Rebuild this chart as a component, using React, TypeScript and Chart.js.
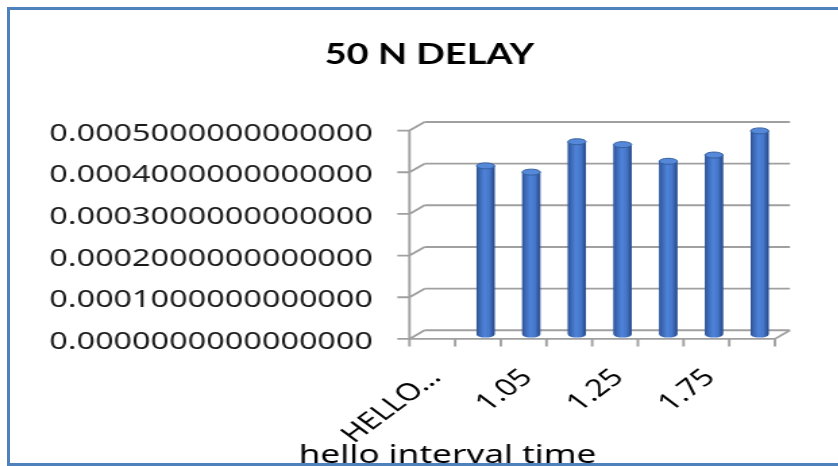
import React, { useEffect, useRef } from 'react';
import { Chart, registerables } from 'chart.js';

Chart.register(...registerables);

// ---- data ----
const categories = ['HELLO INTERVAL TIME', '1', '1.05', '1.1', '1.25', '1.5', '1.75', '2'];
const delays: (number | null)[] = [null, 0.000405, 0.00039, 0.000463, 0.000456, 0.000416, 0.000431, 0.000489];
const yTickValues = [0, 0.0001, 0.0002, 0.0003, 0.0004, 0.0005];
const titleText = '50 N DELAY';
const xAxisTitle = 'hello interval time';

// ---- layout (internal canvas units, canvas is stretched horizontally) ----
const STRETCH = 1.35;
const W = 621;
const H = 466;
const DEPTH_X = 5.6;
const DEPTH_Y = 4.3;

const shortLabel = (s: string) => (s.length > 6 ? s.slice(0, 5) + '\u2026' : s);

// let the y tick labels use the room left of the layout padding (no clipping)
const widenY = {
  id: 'widenY',
  afterLayout(chart: any) {
    chart.scales.y.left = 0;
  },
};

const frame3d = {
  id: 'frame3d',
  beforeDatasetsDraw(chart: any) {
    const { ctx, chartArea: a, scales } = chart;
    const x = scales.x;
    const y = scales.y;
    ctx.save();
    ctx.strokeStyle = '#a0a0a0';
    ctx.lineWidth = 1.9;
    const fl = a.left - DEPTH_X;
    const bl = a.left + DEPTH_X;
    const fr = a.right - DEPTH_X;
    const br = a.right + DEPTH_X;
    const top = y.getPixelForValue(yTickValues[yTickValues.length - 1]);
    const base = y.getPixelForValue(0);
    ctx.beginPath();
    for (const v of yTickValues) {
      const py = y.getPixelForValue(v);
      ctx.moveTo(bl, py - DEPTH_Y);
      ctx.lineTo(br, py - DEPTH_Y);
      ctx.moveTo(fl, py + DEPTH_Y);
      ctx.lineTo(bl, py - DEPTH_Y);
      ctx.moveTo(fl - 9, py + DEPTH_Y);
      ctx.lineTo(fl, py + DEPTH_Y);
    }
    ctx.moveTo(fl, top + DEPTH_Y);
    ctx.lineTo(fl, base + DEPTH_Y);
    ctx.moveTo(fl, base + DEPTH_Y);
    ctx.lineTo(fr, base + DEPTH_Y);
    ctx.lineTo(br, base - DEPTH_Y);
    const cw = x.getPixelForValue(1) - x.getPixelForValue(0);
    for (let i = 0; i <= categories.length; i++) {
      const bx = x.getPixelForValue(i) - cw / 2 - DEPTH_X;
      ctx.moveTo(bx, base + DEPTH_Y);
      ctx.lineTo(bx, base + DEPTH_Y + 7.5);
    }
    ctx.stroke();
    ctx.restore();
  },
};

const cylinders = {
  id: 'cylinders',
  afterDatasetsDraw(chart: any) {
    const meta = chart.getDatasetMeta(0);
    const ctx = chart.ctx;
    ctx.save();
    meta.data.forEach((el: any, i: number) => {
      if (delays[i] == null) return;
      const { x, y, base, width } = el.getProps(['x', 'y', 'base', 'width'], true);
      const l = x - width / 2;
      const r = x + width / 2;
      const rx = width / 2;
      const ry = 3;
      const g = ctx.createLinearGradient(l, 0, r, 0);
      g.addColorStop(0, '#2c5191');
      g.addColorStop(0.18, '#3d69b6');
      g.addColorStop(0.45, '#4e83da');
      g.addColorStop(0.72, '#4576c9');
      g.addColorStop(1, '#264785');
      ctx.fillStyle = g;
      ctx.beginPath();
      ctx.moveTo(l, y);
      ctx.lineTo(l, base);
      ctx.ellipse(x, base, rx, ry, 0, Math.PI, 0, true);
      ctx.lineTo(r, y);
      ctx.closePath();
      ctx.fill();
      ctx.beginPath();
      ctx.ellipse(x, y, rx, ry, 0, 0, Math.PI * 2);
      ctx.fillStyle = '#5588d9';
      ctx.fill();
      ctx.strokeStyle = '#35609f';
      ctx.lineWidth = 1;
      ctx.stroke();
    });
    ctx.restore();
  },
};

const axisTitle = {
  id: 'axisTitle',
  afterDraw(chart: any) {
    const { ctx, chartArea } = chart;
    ctx.save();
    ctx.font = '26px "Noto Sans"';
    ctx.fillStyle = '#000000';
    ctx.textAlign = 'center';
    ctx.textBaseline = 'alphabetic';
    ctx.fillText(xAxisTitle, chartArea.left + 22.6, 463);
    ctx.restore();
  },
};

export default function App() {
  const ref = useRef<HTMLCanvasElement | null>(null);

  useEffect(() => {
    if (!ref.current) return;
    const chart = new Chart(ref.current, {
      type: 'bar',
      data: {
        labels: categories,
        datasets: [
          {
            label: titleText,
            data: delays,
            backgroundColor: '#4472c4',
            borderWidth: 0,
            categoryPercentage: 1,
            barPercentage: 0.395,
          },
        ],
      },
      options: {
        animation: false,
        responsive: false,
        devicePixelRatio: 1,
        layout: { padding: { left: 56.7, right: 41.4, top: 0, bottom: 0 } },
        plugins: {
          legend: { display: false },
          tooltip: { enabled: false },
          title: {
            display: true,
            text: titleText,
            color: '#000000',
            font: { family: 'Lato', size: 28, weight: 'bold', lineHeight: 1.2 },
            padding: { top: 38.2, bottom: 54.5 },
          },
        },
        scales: {
          x: {
            type: 'category',
            offset: true,
            grid: { display: false, drawTicks: false },
            border: { display: false },
            ticks: {
              autoSkip: false,
              maxRotation: 45,
              minRotation: 45,
              padding: 29,
              labelOffset: (c: any) => (c.index === 0 ? 9 : -3),
              color: '#000000',
              font: { family: 'Noto Sans', size: 24 },
              callback: (_v: any, i: number) => (i % 2 === 0 ? shortLabel(categories[i]) : ''),
            },
            afterFit: (s: any) => {
              s.height = H - 334.6;
            },
          },
          y: {
            min: 0,
            max: 0.0005,
            grid: { display: false, drawTicks: false },
            border: { display: false },
            ticks: {
              stepSize: 0.0001,
              padding: 32.6,
              labelOffset: 7.5,
              color: '#1a1a1a',
              font: { family: 'Noto Sans', size: 24 },
              callback: (v: any) => Number(v).toFixed(16),
            },
            afterFit: (s: any) => {
              s.width = 252.2;
            },
          },
        },
      },
      plugins: [widenY, frame3d, cylinders, axisTitle],
    } as any);
    return () => chart.destroy();
  }, []);

  return (
    <div
      style={{
        position: 'fixed',
        left: 0,
        top: 0,
        width: 838,
        height: 466,
        overflow: 'hidden',
        background: '#ffffff',
      }}
    >
      <div
        style={{
          position: 'absolute',
          left: 7,
          top: 7,
          width: 900,
          height: 459,
          border: '3px solid #4f81bd',
          boxSizing: 'border-box',
        }}
      />
      <canvas
        ref={ref}
        width={W}
        height={H}
        style={{
          position: 'absolute',
          left: 0,
          top: 0,
          width: W,
          height: H,
          transform: `scaleX(${STRETCH})`,
          transformOrigin: '0 0',
        }}
      />
    </div>
  );
}
